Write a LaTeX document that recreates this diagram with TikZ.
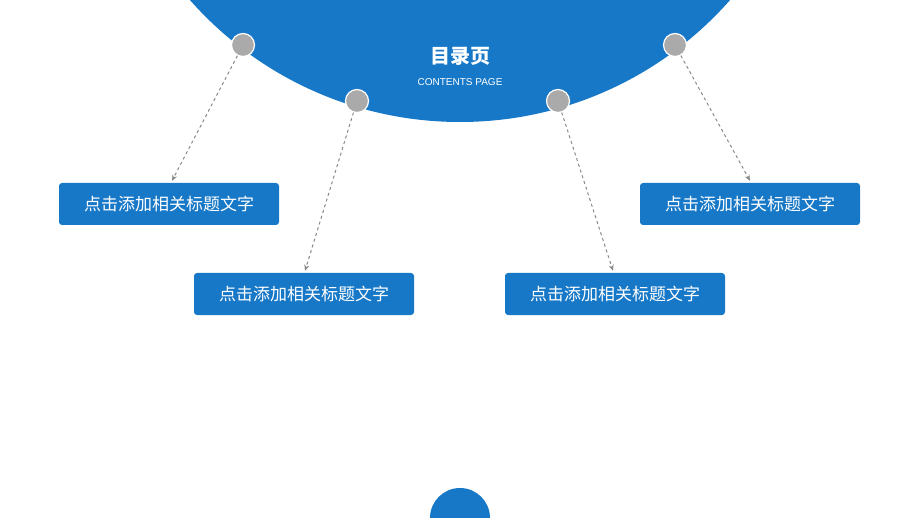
\documentclass[tikz,border=0pt]{standalone}
\usepackage{fontspec}
\setmainfont{Liberation Sans}
\newfontfamily\cjk{Noto Sans CJK SC}
\usetikzlibrary{arrows.meta, positioning}
\definecolor{mainblue}{RGB}{23,120,199}
\definecolor{dotgray}{RGB}{170,170,170}

\begin{document}
\begin{tikzpicture}[
    x=1pt, y=-1pt,
    >={Stealth[length=6pt, width=5pt]},
    dot/.style={circle, fill=dotgray, draw=white, line width=1.2pt, minimum size=23pt, inner sep=0pt},
    titlebox/.style={rectangle, rounded corners=3pt, fill=mainblue, minimum width=220pt, minimum height=42pt, text=white, font=\cjk\fontsize{17}{20}\selectfont},
    link/.style={->, dashed, dotgray!80!black, line width=1pt}
]

    % === Canvas ===
    \useasboundingbox (0,0) rectangle (920,518);
    \clip (0,0) rectangle (920,518);

    % === Big half circle and small bottom one ===
    \fill[mainblue] (460,-238) circle (360);
    \fill[mainblue] (460,518) circle (30);

    % === Heading ===
    \node[text=white, font=\cjk\bfseries\fontsize{20}{24}\selectfont] (head) at (460,56) {目录页};
    \node[text=white, font=\fontsize{10}{12}\selectfont] (sub) at (460,82) {CONTENTS PAGE};

    % === Dots on the rim ===
    \node[dot] (d1) at (243,45) {};
    \node[dot] (d2) at (357,101) {};
    \node[dot] (d3) at (558,101) {};
    \node[dot] (d4) at (675,45) {};

    % === Boxes ===
    \node[titlebox] (b1) at (169,204) {点击添加相关标题文字};
    \node[titlebox] (b2) at (304,294) {点击添加相关标题文字};
    \node[titlebox] (b3) at (615,294) {点击添加相关标题文字};
    \node[titlebox] (b4) at (750,204) {点击添加相关标题文字};

    % === Links ===
    \draw[link] (d1) -- ([xshift=3pt, yshift=2pt]b1.north);
    \draw[link] (d2) -- ([xshift=1pt, yshift=2pt]b2.north);
    \draw[link] (d3) -- ([xshift=-2pt, yshift=2pt]b3.north);
    \draw[link] (d4) -- ([yshift=2pt]b4.north);

\end{tikzpicture}
\end{document}
